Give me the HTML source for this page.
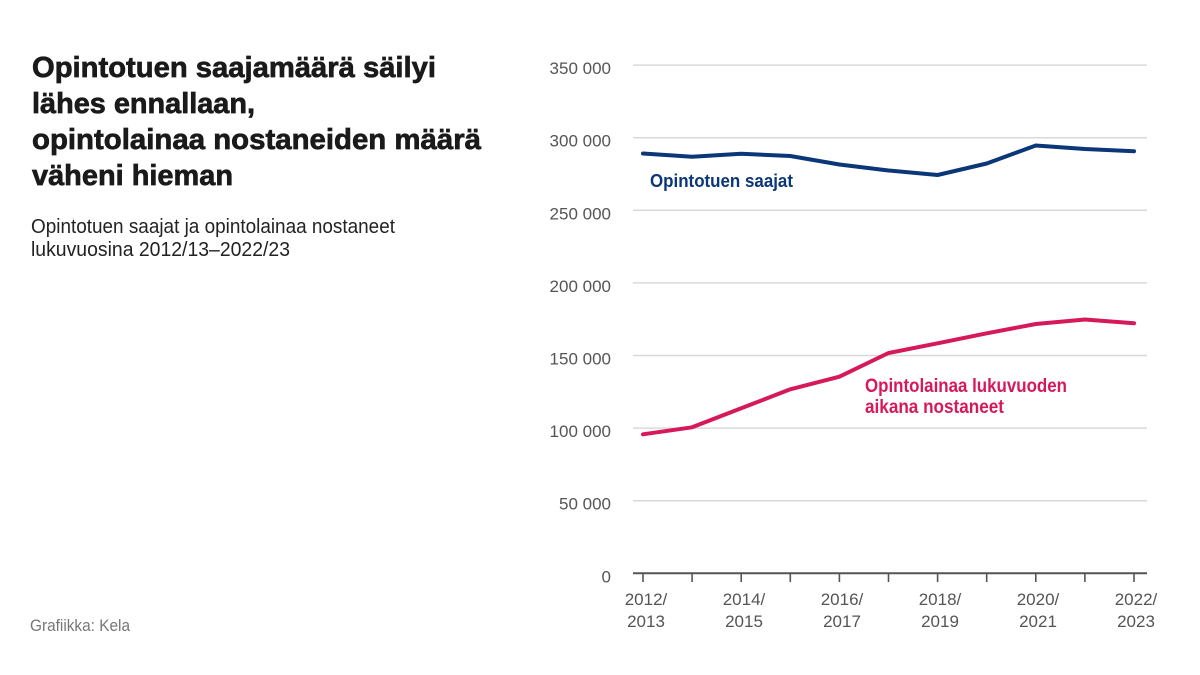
<!DOCTYPE html>
<html>
<head>
<meta charset="utf-8">
<style>
  html, body { margin: 0; padding: 0; background: #ffffff; }
  body { width: 1200px; height: 675px; overflow: hidden; }
  svg { display: block; }
  text { font-family: "Liberation Sans", "DejaVu Sans", sans-serif; }
</style>
</head>
<body>
<svg width="1200" height="675" viewBox="0 0 1200 675" xmlns="http://www.w3.org/2000/svg">
  <rect x="0" y="0" width="1200" height="675" fill="#ffffff"/>

  <!-- Title -->
  <g fill="#1a1a1a" stroke="#1a1a1a" stroke-width="0.7" font-weight="bold" font-size="29">
    <text x="32" y="77" textLength="404" lengthAdjust="spacingAndGlyphs">Opintotuen saajamäärä säilyi</text>
    <text x="32" y="113" textLength="223" lengthAdjust="spacingAndGlyphs">lähes ennallaan,</text>
    <text x="32" y="149" textLength="449" lengthAdjust="spacingAndGlyphs">opintolainaa nostaneiden määrä</text>
    <text x="32" y="185" textLength="201" lengthAdjust="spacingAndGlyphs">väheni hieman</text>
  </g>

  <!-- Subtitle -->
  <g fill="#222222" font-size="20">
    <text x="31" y="233" textLength="364" lengthAdjust="spacingAndGlyphs">Opintotuen saajat ja opintolainaa nostaneet</text>
    <text x="31" y="256" textLength="259" lengthAdjust="spacingAndGlyphs">lukuvuosina 2012/13–2022/23</text>
  </g>

  <!-- Source -->
  <text x="30" y="631" fill="#777777" font-size="17" textLength="100" lengthAdjust="spacingAndGlyphs">Grafiikka: Kela</text>

  <!-- Gridlines -->
  <g stroke="#d9d9d9" stroke-width="1.5">
    <line x1="633" y1="65.1" x2="1147" y2="65.1"/>
    <line x1="633" y1="137.7" x2="1147" y2="137.7"/>
    <line x1="633" y1="210.3" x2="1147" y2="210.3"/>
    <line x1="633" y1="282.9" x2="1147" y2="282.9"/>
    <line x1="633" y1="355.5" x2="1147" y2="355.5"/>
    <line x1="633" y1="428.1" x2="1147" y2="428.1"/>
    <line x1="633" y1="500.7" x2="1147" y2="500.7"/>
  </g>

  <!-- Y labels -->
  <g fill="#555555" font-size="17" text-anchor="end">
    <text x="611" y="74">350 000</text>
    <text x="611" y="146.7">300 000</text>
    <text x="611" y="219.3">250 000</text>
    <text x="611" y="291.9">200 000</text>
    <text x="611" y="364.5">150 000</text>
    <text x="611" y="437.1">100 000</text>
    <text x="611" y="509.7">50 000</text>
    <text x="611" y="582.5">0</text>
  </g>

  <!-- X axis -->
  <line x1="633" y1="573.3" x2="1147" y2="573.3" stroke="#555555" stroke-width="2"/>
  <g stroke="#555555" stroke-width="1.6">
    <line x1="643" y1="573" x2="643" y2="582"/>
    <line x1="692.1" y1="573" x2="692.1" y2="582"/>
    <line x1="741.2" y1="573" x2="741.2" y2="582"/>
    <line x1="790.3" y1="573" x2="790.3" y2="582"/>
    <line x1="839.4" y1="573" x2="839.4" y2="582"/>
    <line x1="888.5" y1="573" x2="888.5" y2="582"/>
    <line x1="937.6" y1="573" x2="937.6" y2="582"/>
    <line x1="986.7" y1="573" x2="986.7" y2="582"/>
    <line x1="1035.8" y1="573" x2="1035.8" y2="582"/>
    <line x1="1084.9" y1="573" x2="1084.9" y2="582"/>
    <line x1="1134" y1="573" x2="1134" y2="582"/>
  </g>

  <!-- X labels -->
  <g fill="#555555" font-size="17" text-anchor="middle">
    <text x="646" y="605">2012/</text><text x="646" y="627">2013</text>
    <text x="744" y="605">2014/</text><text x="744" y="627">2015</text>
    <text x="842" y="605">2016/</text><text x="842" y="627">2017</text>
    <text x="940" y="605">2018/</text><text x="940" y="627">2019</text>
    <text x="1038" y="605">2020/</text><text x="1038" y="627">2021</text>
    <text x="1136" y="605">2022/</text><text x="1136" y="627">2023</text>
  </g>

  <!-- Series: Opintotuen saajat -->
  <polyline fill="none" stroke="#0b3677" stroke-width="4" stroke-linejoin="round" stroke-linecap="round"
    points="643,153.5 692.1,156.7 741.2,153.8 790.3,156 839.4,164.5 888.5,170.5 937.6,175 986.7,163.5 1035.8,145.5 1084.9,149 1134,151.3"/>

  <!-- Series: Opintolainaa nostaneet -->
  <polyline fill="none" stroke="#d6195b" stroke-width="4" stroke-linejoin="round" stroke-linecap="round"
    points="643,434.3 692.1,427.3 741.2,408.3 790.3,389.3 839.4,376.7 888.5,353 937.6,343.3 986.7,333.3 1035.8,324 1084.9,319.5 1134,323.3"/>

  <!-- Series labels -->
  <text x="650" y="187" fill="#0b3677" font-weight="bold" font-size="18.5" textLength="143" lengthAdjust="spacingAndGlyphs">Opintotuen saajat</text>
  <g fill="#d6195b" font-weight="bold" font-size="19">
    <text x="865" y="392" textLength="202" lengthAdjust="spacingAndGlyphs">Opintolainaa lukuvuoden</text>
    <text x="865" y="413" textLength="139" lengthAdjust="spacingAndGlyphs">aikana nostaneet</text>
  </g>
</svg>
</body>
</html>
